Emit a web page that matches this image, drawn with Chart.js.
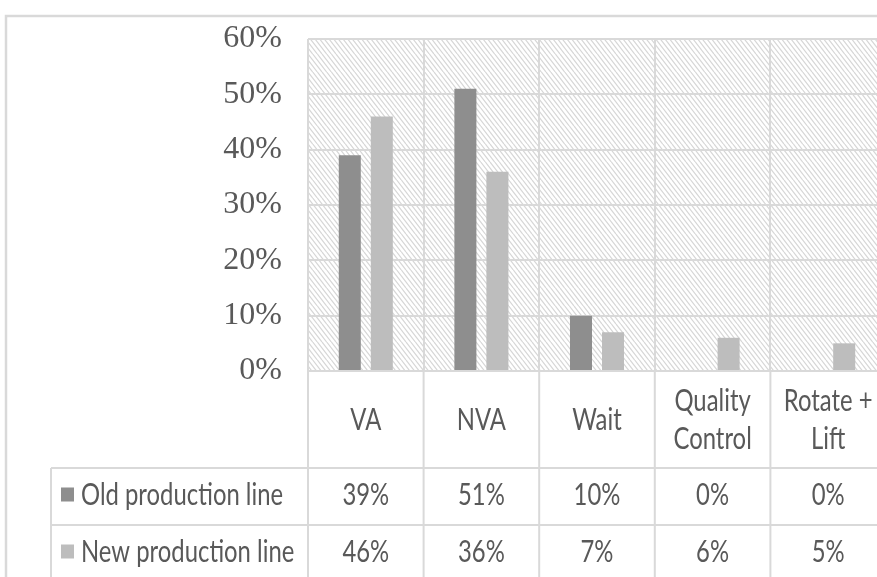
<!DOCTYPE html>
<html>
<head>
<meta charset="utf-8">
<title>Old vs new production line</title>
<script src="https://cdn.jsdelivr.net/npm/chart.js@4.4.1/dist/chart.umd.min.js"></script>
<style>
  html, body { margin: 0; padding: 0; background: #fff; overflow: hidden; }
  #wrap { position: relative; width: 900px; height: 577px; }
</style>
</head>
<body>
<div id="wrap"><canvas id="chart"></canvas></div>
<script>
// Activity categories (multi-line labels as arrays)
const categories = [['VA'], ['NVA'], ['Wait'], ['Quality', 'Control'], ['Rotate +', 'Lift']];
// Series names and share of time per activity, in percent
const seriesNames = ['Old production line', 'New production line'];
const oldLine = [39, 51, 10, 0, 0];
const newLine = [46, 36, 7, 6, 5];
// Value axis range
const yMin = 0, yMax = 60, yStep = 10;

const seriesColors = ['#8e8e8e', '#bdbdbd'];
const gridColor = '#d9d9d9';
const textColor = '#595959';
const tableFont = '31px Lato';
const squeeze = 0.77;          // horizontal squeeze of the sans labels
const catRowHeight = 97;       // height of the category-name row
const dataRowHeight = 57;      // height of each data-table row
const keyColumnLeft = 51;

// Diagonal hatch used behind the bars
function makeHatch(ctx) {
  const w = 14, h = 18;
  const t = document.createElement('canvas');
  t.width = w; t.height = h;
  const c = t.getContext('2d');
  c.fillStyle = '#ffffff';
  c.fillRect(0, 0, w, h);
  c.strokeStyle = '#d6d6d6';
  c.lineWidth = 1.2;
  for (let k = -3; k <= 3; k++) {
    const x0 = k * w / 3;
    c.beginPath();
    c.moveTo(x0, 0);
    c.lineTo(x0 + w, h);
    c.stroke();
  }
  return ctx.createPattern(t, 'repeat');
}

function squeezedText(ctx, str, x, y, align) {
  ctx.save();
  ctx.translate(x, y);
  ctx.scale(squeeze, 1);
  ctx.textAlign = align;
  ctx.textBaseline = 'middle';
  ctx.fillText(str, 0, 0);
  ctx.restore();
}

const dataTablePlugin = {
  id: 'dataTable',
  beforeDraw(chart) {
    const { ctx, chartArea: a } = chart;
    ctx.save();
    // outer frame of the chart object
    ctx.strokeStyle = gridColor;
    ctx.lineWidth = 2.5;
    ctx.beginPath();
    ctx.moveTo(6, chart.height + 2);
    ctx.lineTo(6, 16);
    ctx.lineTo(chart.width + 2, 16);
    ctx.stroke();
    // hatched plot area
    ctx.fillStyle = makeHatch(ctx);
    ctx.fillRect(a.left, a.top, a.right - a.left, a.bottom - a.top);
    ctx.restore();
  },
  afterDraw(chart) {
    const { ctx, chartArea: a } = chart;
    const xs = chart.scales.x;
    const W = chart.width, H = chart.height;
    const n = chart.data.labels.length;
    const step = xs.getPixelForValue(1) - xs.getPixelForValue(0);
    const edge = i => xs.getPixelForValue(i) - step / 2;
    const catBottom = a.bottom + catRowHeight;
    const rowTops = [catBottom, catBottom + dataRowHeight];

    ctx.save();
    ctx.strokeStyle = gridColor;
    ctx.lineWidth = 2;
    ctx.beginPath();
    for (let i = 0; i <= n; i++) {
      ctx.moveTo(edge(i), a.bottom);
      ctx.lineTo(edge(i), H);
    }
    ctx.moveTo(keyColumnLeft, catBottom);
    ctx.lineTo(keyColumnLeft, H);
    rowTops.forEach(y => { ctx.moveTo(keyColumnLeft, y); ctx.lineTo(W, y); });
    ctx.stroke();

    ctx.fillStyle = textColor;
    ctx.font = tableFont;
    // category names
    const catMid = a.bottom + catRowHeight / 2;
    const lineH = 38;
    chart.data.labels.forEach((lab, i) => {
      const lines = Array.isArray(lab) ? lab : [lab];
      const cx = xs.getPixelForValue(i);
      lines.forEach((s, j) => {
        const cy = catMid + (j - (lines.length - 1) / 2) * lineH;
        squeezedText(ctx, s, cx, cy, 'center');
      });
    });
    // data rows with legend keys
    chart.data.datasets.forEach((ds, r) => {
      const cy = rowTops[r] + dataRowHeight / 2 - 2;
      ctx.fillStyle = ds.backgroundColor;
      ctx.fillRect(61, cy - 7, 13, 14);
      ctx.fillStyle = textColor;
      squeezedText(ctx, ds.label, 81, cy, 'left');
      ds.data.forEach((v, i) => {
        squeezedText(ctx, v + '%', xs.getPixelForValue(i), cy, 'center');
      });
    });
    ctx.restore();
  }
};

new Chart(document.getElementById('chart'), {
  type: 'bar',
  data: {
    labels: categories,
    datasets: [
      { label: seriesNames[0], data: oldLine, backgroundColor: seriesColors[0] },
      { label: seriesNames[1], data: newLine, backgroundColor: seriesColors[1] }
    ]
  },
  options: {
    responsive: true,
    maintainAspectRatio: false,
    animation: false,
    layout: { padding: { top: 39, right: 14, left: 0, bottom: 0 } },
    datasets: { bar: { categoryPercentage: 0.554, barPercentage: 0.6875 } },
    plugins: { legend: { display: false }, tooltip: { enabled: false } },
    scales: {
      x: {
        ticks: { display: false },
        grid: { offset: true, color: gridColor, lineWidth: 2, drawTicks: false },
        border: { display: false },
        afterFit(scale) { scale.height = 206; scale.paddingLeft = 0; scale.paddingRight = 0; }
      },
      y: {
        min: yMin, max: yMax,
        ticks: {
          stepSize: yStep,
          padding: 26,
          color: textColor,
          font: { family: 'Liberation Serif', size: 32 },
          callback: v => v + '%'
        },
        grid: { color: gridColor, lineWidth: 2, drawTicks: false },
        border: { display: false },
        afterFit(scale) { scale.width = 308; scale.paddingTop = 0; scale.paddingBottom = 0; }
      }
    }
  },
  plugins: [dataTablePlugin]
});
</script>
</body>
</html>
